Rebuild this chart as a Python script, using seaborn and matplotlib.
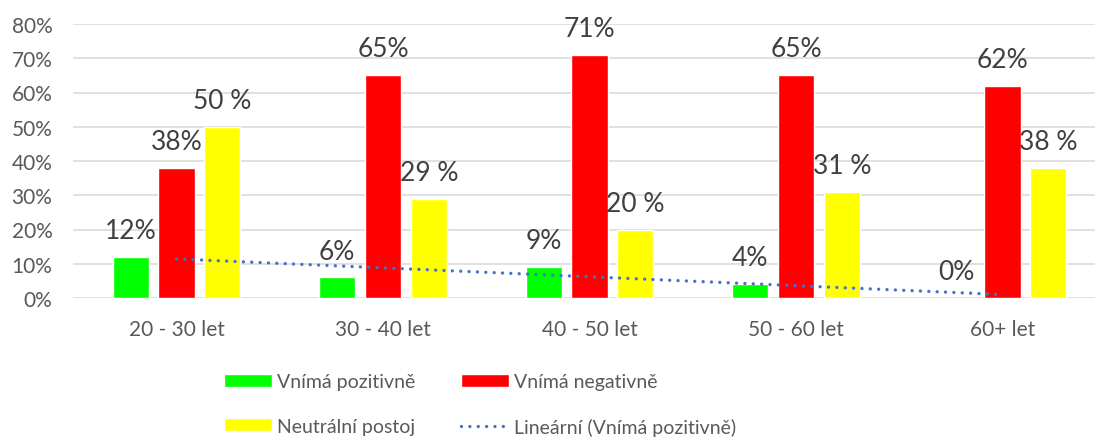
import numpy as np
import pandas as pd
import matplotlib
matplotlib.use("Agg")
import matplotlib.pyplot as plt
import seaborn as sns
from matplotlib.patches import Patch
from matplotlib.lines import Line2D

# Age groups and shares (in %) of each attitude
categories = ["20 - 30 let", "30 - 40 let", "40 - 50 let", "50 - 60 let", "60+ let"]
positive = [12, 6, 9, 4, 0]
negative = [38, 65, 71, 65, 62]
neutral = [50, 29, 20, 31, 38]
series_names = ["Vnímá pozitivně", "Vnímá negativně", "Neutrální postoj"]
trend_name = "Lineární (Vnímá pozitivně)"
y_ticks = [0, 10, 20, 30, 40, 50, 60, 70, 80]

colors = ["#00FF00", "#FF0000", "#FFFF00"]
trend_color = "#4472C4"
text_color = "#595959"
label_color = "#404040"

sns.set_theme(style="white")
plt.rcParams["font.family"] = ["Lato", "DejaVu Sans"]

df = pd.DataFrame({
    "Věk": categories * 3,
    "Podíl": positive + negative + neutral,
    "Postoj": [series_names[0]] * 5 + [series_names[1]] * 5 + [series_names[2]] * 5,
})

W, H = 1095, 439
fig = plt.figure(figsize=(W / 100, H / 100), dpi=100)
ax = fig.add_axes([73.25 / W, 140 / H, 1032.5 / W, 274 / H])

sns.barplot(data=df, x="Věk", y="Podíl", hue="Postoj", order=categories,
            hue_order=series_names, palette=colors, saturation=1,
            width=0.668, gap=0.217, errorbar=None, legend=False, ax=ax)

# value labels above the bars
formats = ["{}%", "{}%", "{} %"]
for cont, vals, fmt in zip(ax.containers, [positive, negative, neutral], formats):
    ax.bar_label(cont, labels=[fmt.format(v) for v in vals], padding=10,
                 fontsize=19, color=label_color)

# linear trend of the positive share
x = np.arange(len(categories))
coef = np.polyfit(x, positive, 1)
ax.plot(x, np.polyval(coef, x), color=trend_color, linewidth=2.4,
        linestyle=(0, (0.01, 2.5)), dash_capstyle="round", zorder=3)

ax.set_ylim(0, 80)
ax.set_xlim(-0.5, len(categories) - 0.5)
ax.set_yticks(y_ticks)
ax.set_yticklabels([f"{t}%" for t in y_ticks])
ax.yaxis.grid(True, color="#D9D9D9", linewidth=1.1)
ax.set_axisbelow(True)
for s in ax.spines.values():
    s.set_visible(False)
ax.tick_params(axis="y", length=0, pad=15, labelsize=15, labelcolor=text_color)
ax.tick_params(axis="x", length=0, pad=15, labelsize=15, labelcolor=text_color)
ax.set_xlabel("")
ax.set_ylabel("")

handles = [
    Patch(facecolor=colors[0]),
    Patch(facecolor=colors[2]),
    Patch(facecolor=colors[1]),
    Line2D([], [], color=trend_color, linewidth=2.4, linestyle=(0, (0.01, 2.5)),
           dash_capstyle="round"),
]
labels = [series_names[0], series_names[2], series_names[1], trend_name]
leg = fig.legend(handles, labels, ncol=2, loc="upper left",
                 bbox_to_anchor=(224 / W, (H - 374) / H), frameon=False,
                 fontsize=14, handlelength=2.45, handleheight=0.66,
                 handletextpad=0.28, columnspacing=2.35, labelspacing=1.42,
                 borderpad=0, borderaxespad=0)
for t in leg.get_texts():
    t.set_color(text_color)

fig.savefig("out.png", dpi=100)
